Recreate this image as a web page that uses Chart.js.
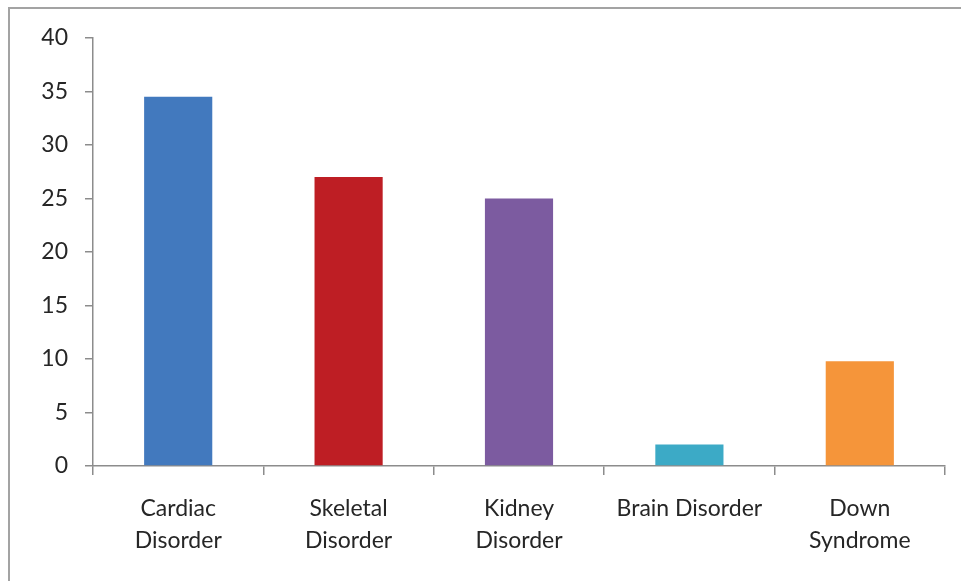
<!DOCTYPE html>
<html lang="en">
<head>
    <meta charset="UTF-8" />
    <title>Disorders</title>
    <script src="https://cdn.jsdelivr.net/npm/chart.js"></script>
    <style>
        body { margin: 0; background: #fff; }
        .frame { position: relative; width: 961px; height: 581px; overflow: hidden; }
        .edge { position: absolute; left: 8px; top: 7px; width: 1000px; height: 1000px;
                border-left: 2px solid #a3a3a3; border-top: 2px solid #a3a3a3; }
        canvas { position: absolute; left: 0; top: 0; }
    </style>
</head>
<body>
    <div class="frame">
        <div class="edge"></div>
        <canvas id="grafik" width="961" height="581"></canvas>
    </div>

    <script>
        // data
        const kategori = [["Cardiac", "Disorder"], ["Skeletal", "Disorder"], ["Kidney", "Disorder"], "Brain Disorder", ["Down", "Syndrome"]];
        const nilai = [34.5, 27, 25, 2, 9.8];
        const warna = ["#4279be", "#be1e24", "#7c5ba0", "#3caac6", "#f5953a"];
        const yTicks = [0, 5, 10, 15, 20, 25, 30, 35, 40];

        const garis = "#8c8c8c";
        const huruf = { family: "Lato, 'Open Sans', sans-serif", size: 23 };

        const ctx = document.getElementById("grafik").getContext("2d");
        new Chart(ctx, {
            type: "bar",
            data: {
                labels: kategori,
                datasets: [{
                    data: nilai,
                    backgroundColor: warna,
                    borderWidth: 0,
                    categoryPercentage: 1,
                    barPercentage: 0.4
                }]
            },
            options: {
                responsive: false,
                animation: false,
                layout: { padding: { top: 38, right: 16, left: 0, bottom: 0 } },
                plugins: { legend: { display: false }, tooltip: { enabled: false } },
                scales: {
                    y: {
                        min: yTicks[0],
                        max: yTicks[yTicks.length - 1],
                        afterBuildTicks: (ax) => { ax.ticks = yTicks.map(v => ({ value: v })); },
                        afterFit: (ax) => { ax.width = 93; },
                        border: { color: garis, width: 1.5 },
                        grid: { drawOnChartArea: false, color: garis, tickLength: 8, lineWidth: 1.5 },
                        ticks: { color: "#262626", font: huruf, padding: 17 }
                    },
                    x: {
                        afterFit: (ax) => { ax.height = 115; },
                        border: { color: garis, width: 1.5 },
                        grid: { drawOnChartArea: false, offset: true, color: garis, tickLength: 9, lineWidth: 1.5 },
                        ticks: { color: "#262626", font: { ...huruf, lineHeight: 1.39 }, padding: 18, maxRotation: 0, autoSkip: false }
                    }
                }
            }
        });
    </script>
</body>
</html>
